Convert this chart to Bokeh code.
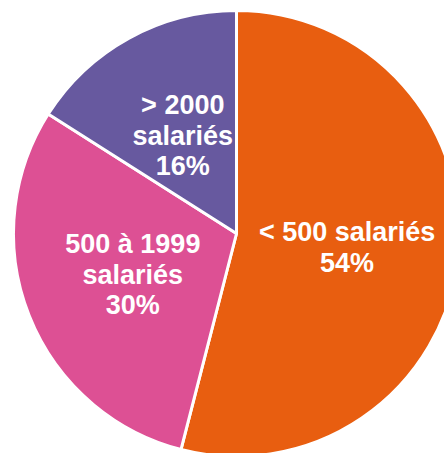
import math
from bokeh.plotting import figure
from bokeh.models import ColumnDataSource, Range1d
from bokeh.core.properties import value
from bokeh.embed import file_html
from bokeh.resources import INLINE

categories = ["< 500 salariés", "500 à 1999 salariés", "> 2000 salariés"]
shares = [54, 30, 16]
label_texts = ["< 500 salariés\n54%", "500 à 1999\nsalariés\n30%", "> 2000\nsalariés\n16%"]
colors = ["#E85E10", "#DD5094", "#67599F"]

W, H = 444, 453
cx, cy, r = 236, 220, 223

total = sum(shares)
starts, ends, lx, ly = [], [], [], []
cur = math.pi / 2
for s in shares:
    a = 2 * math.pi * s / total
    end = cur
    start = cur - a
    starts.append(start)
    ends.append(end)
    mid = (start + end) / 2
    lx.append(cx + 0.5 * r * math.cos(mid))
    ly.append(cy + 0.5 * r * math.sin(mid))
    cur = start

src = ColumnDataSource(dict(start=starts, end=ends, color=colors,
                            lx=lx, ly=ly, text=label_texts, cat=categories))

p = figure(width=W, height=H, output_backend="svg", toolbar_location=None,
           x_range=Range1d(0, W), y_range=Range1d(0, H), min_border=0)
p.axis.visible = False
p.grid.visible = False
p.outline_line_color = None
p.background_fill_color = "white"
p.border_fill_color = "white"

p.wedge(x=cx, y=cy, radius=r, start_angle="start", end_angle="end",
        fill_color="color", line_color="white", line_width=3, source=src)

p.text(x="lx", y="ly", text="text", source=src, text_color="white",
       text_font=value("Liberation Sans"), text_font_style="bold",
       text_font_size="27px", text_align="center", text_baseline="middle",
       text_line_height=1.02)

open("out.html", "w").write(file_html(p, INLINE))
